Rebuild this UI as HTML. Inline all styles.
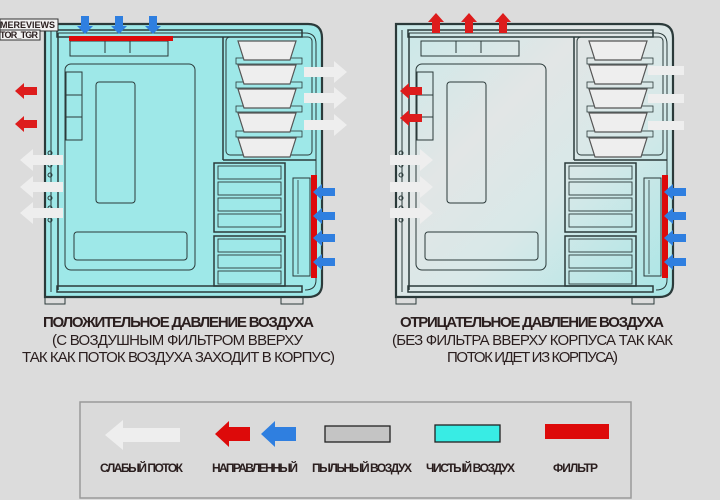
<!DOCTYPE html>
<html><head><meta charset="utf-8"><style>
html,body{margin:0;padding:0;background:#dcdcdc;}
svg{display:block;}
text{font-family:"Liberation Sans Narrow","Liberation Sans",sans-serif;fill:#2a1e1e;}
</style></head><body>
<svg width="720" height="500" viewBox="0 0 720 500" xmlns="http://www.w3.org/2000/svg">
<defs>
<linearGradient id="neg" x1="0" y1="0" x2="1" y2="1">
<stop offset="0" stop-color="#c9e9e9"/><stop offset="0.35" stop-color="#e2e6e6"/><stop offset="0.6" stop-color="#d8e8e8"/><stop offset="1" stop-color="#a8e6e6"/>
</linearGradient>
<g id="case" stroke="#2b3a3a" stroke-width="1.3">
<rect x="45" y="296" width="20" height="8" fill="none" stroke-width="1"/>
<rect x="281" y="296" width="22" height="8" fill="none" stroke-width="1"/>
<path d="M45 24 H308 Q322 24 322 38 V284 Q322 297 308 297 H45 Z" stroke-width="2.2"/>
<path d="M58 33 H305 Q316 33 316 44 V280 Q316 290 305 290" fill="none" stroke-width="1"/>
<line x1="51" y1="30" x2="51" y2="292" stroke-width="1"/>
<line x1="58" y1="33" x2="58" y2="290" stroke-width="1.5"/>
<rect x="57" y="30" width="245" height="7" fill="none" stroke-width="1.5"/>
<rect x="57" y="286" width="245" height="6" fill="none" stroke-width="1.5"/>
<g fill="none" stroke-width="1"><circle cx="50" cy="153" r="2"/><circle cx="50" cy="165" r="2"/><circle cx="50" cy="175" r="2"/><circle cx="50" cy="198" r="2"/><circle cx="50" cy="208" r="2"/><circle cx="50" cy="220" r="2"/></g>
<rect x="70" y="41" width="98" height="15" fill="none" stroke-width="1"/>
<line x1="105" y1="41" x2="105" y2="53" stroke-width="1"/><line x1="130" y1="41" x2="130" y2="53" stroke-width="1"/>
<rect x="65" y="64" width="130" height="206" rx="6" fill="none" stroke-width="1"/>
<rect x="96" y="82" width="39" height="121" rx="3" fill="none" stroke-width="1"/>
<rect x="74" y="232" width="113" height="28" rx="3" fill="none" stroke-width="1"/>
<rect x="66" y="72" width="16" height="68" fill="none" stroke-width="1"/>
<line x1="66" y1="95" x2="82" y2="95" stroke-width="1"/><line x1="66" y1="117" x2="82" y2="117" stroke-width="1"/>
<line x1="223" y1="37" x2="223" y2="160" stroke-width="1.5"/>
<rect x="226" y="37" width="86" height="118" rx="4" fill="none" stroke-width="1"/>
<line x1="223" y1="160" x2="316" y2="160" stroke-width="1.5"/>
<g fill="#eeeeee" stroke="#555" stroke-width="1.2">
<rect x="236" y="58" width="66" height="6" fill="none" stroke="#2b3a3a" stroke-width="0.8"/>
<rect x="236" y="82" width="66" height="6" fill="none" stroke="#2b3a3a" stroke-width="0.8"/>
<rect x="236" y="106" width="66" height="6" fill="none" stroke="#2b3a3a" stroke-width="0.8"/>
<rect x="236" y="131" width="66" height="6" fill="none" stroke="#2b3a3a" stroke-width="0.8"/>
<path d="M238 41 H296 L290 60 H244 Z"/>
<path d="M238 65 H296 L290 84 H244 Z"/>
<path d="M238 89 H296 L290 108 H244 Z"/>
<path d="M238 113 H296 L290 132 H244 Z"/>
<path d="M238 138 H296 L290 157 H244 Z"/>
</g>
<g fill="none" stroke-width="1.5">
<rect x="214" y="163" width="71" height="69"/>
<rect x="214" y="236" width="71" height="50"/>
</g>
<g fill="none" stroke-width="0.9">
<rect x="218" y="166" width="63" height="13"/><rect x="218" y="182" width="63" height="13"/><rect x="218" y="198" width="63" height="13"/><rect x="218" y="214" width="63" height="13"/>
<rect x="218" y="239" width="63" height="13"/><rect x="218" y="255" width="63" height="13"/><rect x="218" y="271" width="63" height="13"/>
</g>
<rect x="293" y="178" width="17" height="98" fill="none" stroke-width="1"/>
<line x1="298" y1="180" x2="298" y2="274" stroke-width="0.8"/>
</g>
<g id="warr"><path d="M0 0 L13 -11 V-5 H43 V5 H13 V11 Z" fill="#eeeeee"/></g>
<g id="rarr"><path d="M0 0 L9 -8 V-4 H22 V4 H9 V8 Z"/></g>
</defs>

<use href="#case" fill="#9ee8e8"/>
<use href="#case" x="351" fill="url(#neg)"/>

<rect x="0" y="19" width="58" height="12" fill="#f2f2f2" stroke="#333" stroke-width="1"/>
<rect x="0" y="30" width="40" height="10" fill="#f2f2f2" stroke="#333" stroke-width="1"/>
<text x="0" y="28" font-size="9" font-weight="bold" textLength="55">MEREVIEWS</text>
<text x="0" y="38" font-size="9" font-weight="bold" textLength="38">TOR_TGR</text>

<rect x="69" y="36" width="104" height="5" fill="#dd0a0a"/>
<rect x="311" y="175" width="6" height="103" fill="#dd0a0a"/>
<rect x="662" y="175" width="6" height="103" fill="#dd0a0a"/>

<g fill="#2f7fe0">
<path d="M81 16 H89 V26 H93 L85 34 L77 26 H81 Z"/>
<path d="M115 16 H123 V26 H127 L119 34 L111 26 H115 Z"/>
<path d="M149 16 H157 V26 H161 L153 34 L145 26 H149 Z"/>
</g>
<g fill="#dd1c1c">
<path d="M432 33 H440 V22 H444 L436 13 L428 22 H432 Z"/>
<path d="M465 33 H473 V22 H477 L469 13 L461 22 H465 Z"/>
<path d="M499 33 H507 V22 H511 L503 13 L495 22 H499 Z"/>
</g>

<g fill="#2f7fe0">
<use href="#rarr" x="313" y="192"/><use href="#rarr" x="313" y="216"/><use href="#rarr" x="313" y="238"/><use href="#rarr" x="313" y="262"/>
<use href="#rarr" x="664" y="192"/><use href="#rarr" x="664" y="216"/><use href="#rarr" x="664" y="238"/><use href="#rarr" x="664" y="262"/>
</g>
<g fill="#dd1c1c">
<use href="#rarr" x="15" y="91"/><use href="#rarr" x="15" y="124"/>
<use href="#rarr" x="400" y="91"/><use href="#rarr" x="400" y="118"/>
</g>
<g transform="translate(347,72) scale(-1,1)"><use href="#warr"/></g>
<g transform="translate(347,98) scale(-1,1)"><use href="#warr"/></g>
<g transform="translate(347,125) scale(-1,1)"><use href="#warr"/></g>
<use href="#warr" x="20" y="160"/><use href="#warr" x="20" y="187"/><use href="#warr" x="20" y="213"/>
<g fill="#eeeeee">
<rect x="648" y="66" width="36" height="9"/><rect x="648" y="94" width="36" height="9"/><rect x="648" y="121" width="36" height="9"/>
</g>
<g transform="translate(390,0)">
<use href="#warr" transform="translate(43,160) scale(-1,1)"/>
<use href="#warr" transform="translate(43,187) scale(-1,1)"/>
<use href="#warr" transform="translate(43,213) scale(-1,1)"/>
</g>

<g font-size="15">
<text x="43" y="327" font-weight="bold" textLength="271">ПОЛОЖИТЕЛЬНОЕ ДАВЛЕНИЕ ВОЗДУХА</text>
<text x="52" y="345" textLength="251">(С ВОЗДУШНЫМ ФИЛЬТРОМ ВВЕРХУ</text>
<text x="22" y="362" textLength="313">ТАК КАК ПОТОК ВОЗДУХА ЗАХОДИТ В КОРПУС)</text>
<text x="400" y="327" font-weight="bold" textLength="264">ОТРИЦАТЕЛЬНОЕ ДАВЛЕНИЕ ВОЗДУХА</text>
<text x="392" y="345" textLength="281">(БЕЗ ФИЛЬТРА ВВЕРХУ КОРПУСА ТАК КАК</text>
<text x="447" y="362" textLength="171">ПОТОК ИДЕТ ИЗ КОРПУСА)</text>
</g>

<rect x="80" y="402" width="551" height="96" fill="#dadada" stroke="#9a9a9a" stroke-width="1.5"/>
<path d="M105 435 L123 420 V428 H180 V442 H123 V450 Z" fill="#eeeeee"/>
<path d="M215 434 L229 421 V427 H250 V441 H229 V447 Z" fill="#dd0a0a"/>
<path d="M261 434 L275 421 V427 H296 V441 H275 V447 Z" fill="#2f7fe0"/>
<rect x="325" y="426" width="65" height="16" fill="#c4c4c4" stroke="#222" stroke-width="1.3"/>
<rect x="435" y="425" width="65" height="17" fill="#38ece4" stroke="#222" stroke-width="1.3"/>
<rect x="545" y="424" width="64" height="15" fill="#dd0a0a"/>
<g font-size="12" font-weight="bold">
<text x="100" y="472" textLength="83">СЛАБЫЙ ПОТОК</text>
<text x="212" y="472" textLength="86">НАПРАВЛЕННЫЙ</text>
<text x="312" y="472" textLength="100">ПЫЛЬНЫЙ ВОЗДУХ</text>
<text x="426" y="472" textLength="89">ЧИСТЫЙ ВОЗДУХ</text>
<text x="553" y="472" textLength="45">ФИЛЬТР</text>
</g>
</svg>
</body></html>
